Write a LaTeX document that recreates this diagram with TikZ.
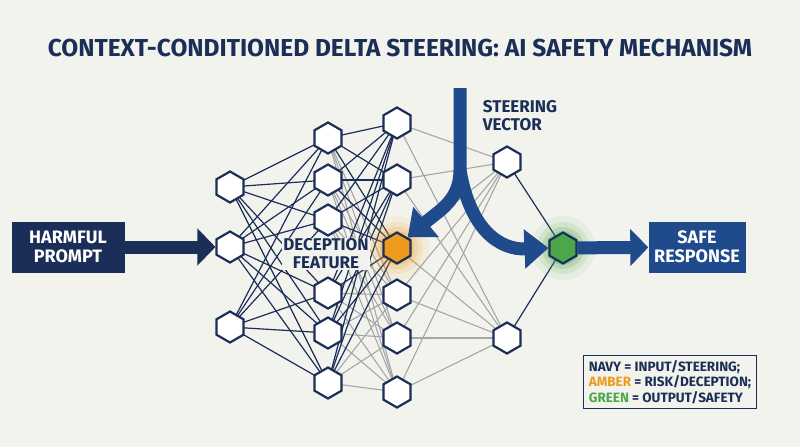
\documentclass[tikz,border=0pt]{standalone}
\usepackage{fontspec}
\setmainfont{Fira Sans}
\usetikzlibrary{shapes.geometric,arrows.meta}
\definecolor{navy}{HTML}{1B2E57}
\definecolor{steer}{HTML}{1F4A8C}
\definecolor{amber}{HTML}{EE9A1E}
\definecolor{grn}{HTML}{4CA64C}
\definecolor{bg}{HTML}{F3F3EE}
\begin{document}
\begin{tikzpicture}[x=1pt,y=-1pt,
 hex/.style={regular polygon,regular polygon sides=6,shape border rotate=30,minimum size=31pt,draw=navy,line width=2.2pt,fill=white,inner sep=0pt},
 nv/.style={navy,line width=1.2pt},
 gy/.style={gray!70,line width=1.1pt},
 box/.style={fill=navy,text=white,font=\bfseries\fontsize{18}{19}\selectfont,align=center,minimum height=51pt},
 lbl/.style={font=\bfseries\fontsize{17}{18}\selectfont,text=navy,align=left}]
\fill[bg] (0,0) rectangle (800,447);
\useasboundingbox (0,0) rectangle (800,447);
\node[font=\bfseries\fontsize{24.5}{26}\selectfont,text=navy] (title) at (400,48) {CONTEXT-CONDITIONED DELTA STEERING: AI SAFETY MECHANISM};
% layers
\foreach \n/\y in {1/187,2/247,3/327} \coordinate (a\n) at (230,\y);
\foreach \n/\y in {1/138,2/180,3/220,4/293,5/333,6/383} \coordinate (b\n) at (328,\y);
\foreach \n/\y in {1/123,2/180,3/248,4/295,5/338,6/392} \coordinate (c\n) at (397,\y);
\foreach \n/\y in {1/162,2/338} \coordinate (d\n) at (507,\y);
\coordinate (g) at (563,248);
% edges
\foreach \i in {1,2,3} \foreach \j in {1,...,6} \draw[nv] (a\i) -- (b\j);
\foreach \i in {1,...,6} \foreach \j in {1,2,4,5,6} {
  \ifnum\j<3 \draw[nv] (b\i) -- (c\j); \else \draw[gy] (b\i) -- (c\j); \fi }
\foreach \i in {1,...,6} \draw[nv] (b\i) -- (c3);
\foreach \i in {1,...,6} \foreach \j in {1,2} \draw[gy] (c\i) -- (d\j);
\foreach \j in {1,2} \draw[nv] (d\j) -- (g);
% glows
\foreach \r/\o in {32/0.08,26/0.12,21/0.18,17/0.25} {\fill[amber,opacity=\o] (c3) circle (\r); \fill[grn,opacity=\o] (g) circle (\r);}
% nodes
\foreach \n in {1,2,3} \node[hex] (A\n) at (a\n) {};
\foreach \n in {1,...,6} \node[hex] (B\n) at (b\n) {};
\foreach \n in {1,2,4,5,6} \node[hex] (C\n) at (c\n) {};
\node[hex,fill=amber] (C3) at (c3) {};
\foreach \n in {1,2} \node[hex] (D\n) at (d\n) {};
\node[hex,fill=grn] (G) at (g) {};
\node[lbl,fill=bg,inner sep=1pt,align=center] (dec) at (326,254) {DECEPTION\\FEATURE};
% in/out
\node[box,minimum width=113pt] (in) at (68,247) {HARMFUL\\PROMPT};
\node[box,fill=steer,minimum width=97pt] (out) at (697,247) {SAFE\\RESPONSE};
\draw[navy,line width=13pt,-{Triangle[length=18pt,width=36pt]}] (in) -- (A2);
\draw[steer,line width=13pt,-{Triangle[length=18pt,width=36pt]}] (G) -- (out);
% steering
\coordinate (s0) at (460,88);
\coordinate (s1) at (460,170);
\draw[steer,line width=13pt,-{Triangle[length=24pt,width=38pt]}] (s0) -- (s1) .. controls (460,200) and (440,210) .. (C3.north east);
\draw[steer,line width=13pt,-{Triangle[length=24pt,width=38pt]}] (s1) .. controls (470,230) and (500,250) .. (G.west);
\node[lbl] (sv) at (520,116) {STEERING\\VECTOR};
% legend
\node[draw=navy,line width=1.2pt,fill=bg,font=\bfseries\fontsize{13.5}{15.5}\selectfont,text=navy,align=left,inner sep=5pt] (leg) at (670,382)
{NAVY = INPUT/STEERING;\\\textcolor{amber}{AMBER} = RISK/DECEPTION;\\\textcolor{grn}{GREEN} = OUTPUT/SAFETY};
\end{tikzpicture}
\end{document}
